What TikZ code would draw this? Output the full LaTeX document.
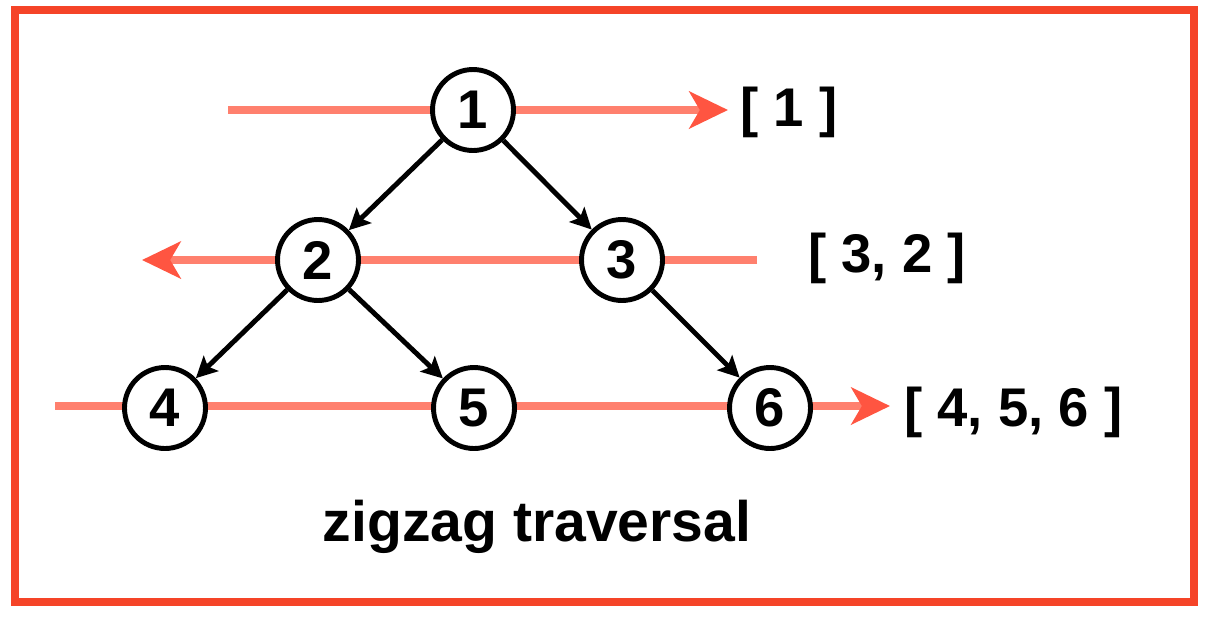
\documentclass[tikz,border=0pt]{standalone}
\usepackage{fontspec}
\setmainfont{Liberation Sans}
\usetikzlibrary{arrows.meta}

\definecolor{framered}{RGB}{245,68,40}
\definecolor{levelred}{RGB}{255,128,110}
\definecolor{tipred}{RGB}{255,85,65}

\begin{document}
\begin{tikzpicture}[x=0.02cm,y=-0.02cm,
    vertex/.style={circle,draw=black,fill=white,line width=2.8pt,minimum size=1.62cm,inner sep=0pt,font=\fontsize{31}{36}\selectfont\bfseries},
    edge/.style={line width=2.8pt,-{Stealth[length=12pt,width=12pt,inset=2.5pt]}},
    level/.style={draw=levelred,line width=5pt,-{Stealth[length=22pt,width=21pt,inset=6pt,fill=tipred,color=tipred]}},
    result/.style={anchor=west,inner sep=0pt,font=\fontsize{31}{36}\selectfont\bfseries}]
    \useasboundingbox (0,0) rectangle (1206,616);
    \draw[framered,line width=4.5pt] (15,10) rectangle (1194,602);
    % level lines
    \coordinate (l1s) at (228,110);
    \coordinate (l1e) at (728,110);
    \coordinate (l2s) at (757,260);
    \coordinate (l2e) at (142,260);
    \coordinate (l3s) at (55,406);
    \coordinate (l3e) at (890,406);
    \draw[level] (l1s) -- (l1e);
    \draw[level] (l2s) -- (l2e);
    \draw[level] (l3s) -- (l3e);
    % tree
    \node[vertex] (n1) at (473,110) {1};
    \node[vertex] (n2) at (318,260) {2};
    \node[vertex] (n3) at (622,260) {3};
    \node[vertex] (n4) at (165,408) {4};
    \node[vertex] (n5) at (474,408) {5};
    \node[vertex] (n6) at (770,408) {6};
    \draw[edge] (n1) -- (n2);
    \draw[edge] (n1) -- (n3);
    \draw[edge] (n2) -- (n4);
    \draw[edge] (n2) -- (n5);
    \draw[edge] (n3) -- (n6);
    % results
    \node[result] (r1) at (740,112) {[ 1 ]};
    \node[result] (r2) at (808,258) {[ 3, 2 ]};
    \node[result] (r3) at (904,412) {[ 4, 5, 6 ]};
    \node[font=\fontsize{32.5}{38}\selectfont\bfseries] (title) at (537,527) {zigzag traversal};
\end{tikzpicture}
\end{document}
